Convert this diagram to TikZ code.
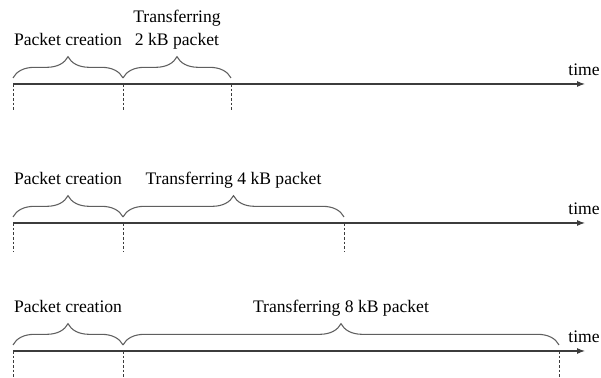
\documentclass[tikz,border=0pt]{standalone}
\usepackage{fontspec}
\newfontfamily\timesfont{Liberation Serif}
\usetikzlibrary{positioning,calc,decorations.pathreplacing,arrows.meta}
\definecolor{AxisGray}{RGB}{60,60,60}
\definecolor{BraceGray}{RGB}{95,95,95}
\tikzset{
    axisline/.style={draw=AxisGray, line width=0.8pt, -{Latex[length=6pt,width=4.5pt]}},
    tickline/.style={draw=AxisGray, line width=0.7pt, dash pattern=on 2pt off 1.5pt},
    bracepath/.style={draw=BraceGray, line width=0.8pt, decorate,
        decoration={brace, amplitude=16pt, raise=4.5pt}},
    phaselabel/.style={font=\timesfont\fontsize{13.2}{17.5}\selectfont, inner sep=0pt, align=center, anchor=base},
    timelabel/.style={font=\timesfont\fontsize{13.2}{15}\selectfont, inner sep=0pt, anchor=base}
}
\begin{document}
\begin{tikzpicture}[x=0.75pt, y=0.75pt]
    \useasboundingbox (0,0) rectangle (601,378);
    % row / height of axis / end of transfer / foot of markers / text of transfer
    \foreach \r/\ya/\xe/\yb/\txt in {
        1/294/231/268/{Transferring\\2 kB packet},
        2/155/344/126/{Transferring 4 kB packet},
        3/27/559/0/{Transferring 8 kB packet}}{
        % --- points on the time axis ---
        \coordinate (start\r) at (13,\ya);
        \coordinate (split\r) at (123,\ya);
        \coordinate (stop\r) at (\xe,\ya);
        \coordinate (tip\r) at (585,\ya);
        % --- axis ---
        \draw[axisline] (start\r) -- (tip\r);
        \node[timelabel] (time\r) at (584,\ya+8) {time};
        % --- dashed markers ---
        \foreach \p in {start,split,stop}{
            \coordinate (\p\r-foot) at (\p\r |- 0,\yb);
            \draw[tickline] (\p\r) -- (\p\r-foot);
        }
        % --- braces and texts ---
        \draw[bracepath] (start\r) -- (split\r);
        \draw[bracepath] (split\r) -- (stop\r);
        \node[phaselabel] (create\r) at ($(start\r)!0.5!(split\r)+(0,38)$) {Packet creation};
        \node[phaselabel] (send\r) at ($(split\r)!0.5!(stop\r)+(0,38)$) {\txt};
    }
\end{tikzpicture}
\end{document}
